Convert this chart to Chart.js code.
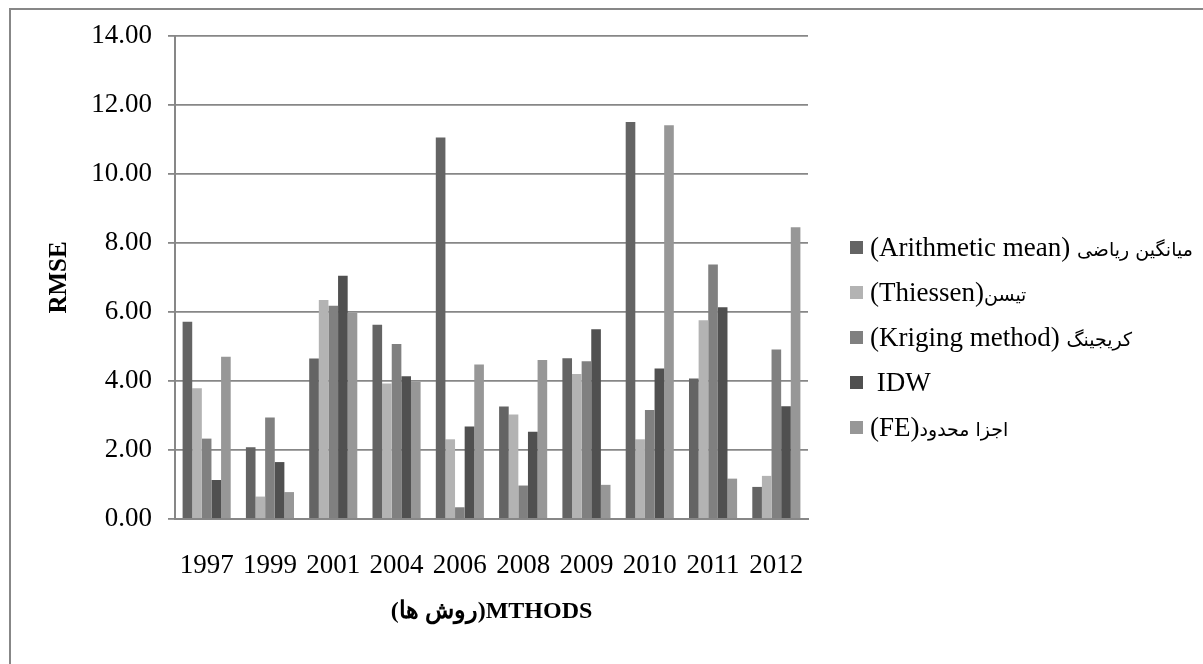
<!DOCTYPE html>
<html>
<head>
<meta charset="utf-8">
<script src="https://cdn.jsdelivr.net/npm/chart.js@4"></script>
<style>
  body { margin: 0; background: #fff; overflow: hidden; }
  #frame {
    position: absolute; left: 9px; top: 8px; width: 1300px; height: 700px;
    border-left: 2px solid #878787; border-top: 2px solid #878787;
  }
  #chartCanvas { position: absolute; left: 0; top: 0; }
  #legend {
    position: absolute; left: 850px; top: 225px;
    font-family: "Liberation Serif", "Times New Roman", serif; font-size: 27px; color: #000;
  }
  .legend-row { height: 45px; display: flex; align-items: center; white-space: pre; }
  .legend-box { width: 13px; height: 13px; margin-right: 7px; flex: none; }
  .fa { font-family: "DejaVu Sans", sans-serif; font-size: 19px; }
</style>
</head>
<body>
<div id="frame"></div>
<canvas id="chartCanvas" width="1203" height="664"></canvas>
<div id="legend"></div>
<script>
const years = ['1997', '1999', '2001', '2004', '2006', '2008', '2009', '2010', '2011', '2012'];

const seriesNames = [
  '(Arithmetic mean) میانگین ریاضی',
  '(Thiessen)تیسن',
  '(Kriging method) کریجینگ',
  ' IDW',
  '(FE)اجزا محدود'
];
const seriesColors = ['#646464', '#b3b3b3', '#808080', '#505050', '#979797'];

const arithmeticMean = [5.72, 2.08, 4.65, 5.63, 11.06, 3.26, 4.66, 11.51, 4.07, 0.93];
const thiessen       = [3.79, 0.65, 6.35, 3.93, 2.31, 3.03, 4.20, 2.31, 5.76, 1.25];
const kriging        = [2.33, 2.94, 6.18, 5.07, 0.34, 0.97, 4.57, 3.16, 7.38, 4.91];
const idw            = [1.13, 1.65, 7.05, 4.14, 2.68, 2.53, 5.50, 4.36, 6.14, 3.27];
const finiteElement  = [4.70, 0.78, 5.98, 3.98, 4.48, 4.61, 0.99, 11.41, 1.17, 8.46];

const allSeries = [arithmeticMean, thiessen, kriging, idw, finiteElement];

const serif = '"Liberation Serif", "Times New Roman", serif';
const gridGray = '#878787';

const datasets = allSeries.map((vals, i) => ({
  label: seriesNames[i],
  data: vals,
  backgroundColor: seriesColors[i],
  borderWidth: 0,
  categoryPercentage: 0.76,
  barPercentage: 1.0
}));

// legend is plain html so the persian text gets proper bidi handling
// (persian runs get a smaller font, DejaVu is much wider than the original)
const legendEl = document.getElementById('legend');
datasets.forEach(ds => {
  const row = document.createElement('div');
  row.className = 'legend-row';
  const box = document.createElement('span');
  box.className = 'legend-box';
  box.style.background = ds.backgroundColor;
  const txt = document.createElement('span');
  txt.innerHTML = ds.label.replace(/[\u0600-\u06FF][\u0600-\u06FF ]*/g, m => '<span class="fa">' + m + '</span>');
  row.appendChild(box);
  row.appendChild(txt);
  legendEl.appendChild(row);
});

const ctx = document.getElementById('chartCanvas').getContext('2d');
new Chart(ctx, {
  type: 'bar',
  data: { labels: years, datasets },
  options: {
    responsive: false,
    animation: false,
    layout: { padding: { top: 36, right: 395, bottom: 0, left: 0 } },
    plugins: {
      legend: { display: false },
      tooltip: { enabled: false }
    },
    scales: {
      x: {
        grid: { display: false },
        border: { display: true, color: gridGray, width: 2 },
        ticks: {
          color: '#000',
          padding: 23,
          maxRotation: 0,
          autoSkip: false,
          font: { family: serif, size: 27 }
        },
        title: {
          display: true,
          text: '(روش ها)MTHODS',
          color: '#000',
          font: { family: serif, size: 24, weight: 'bold' },
          padding: { top: 0, bottom: 38 }
        },
        afterFit: scale => { scale.height = 145; }
      },
      y: {
        min: 0,
        max: 14,
        grid: { color: gridGray, lineWidth: 1.8, tickLength: 7 },
        border: { display: true, color: gridGray, width: 2 },
        ticks: {
          stepSize: 2,
          color: '#000',
          padding: 16,
          font: { family: serif, size: 27 },
          callback: v => v.toFixed(2)
        },
        title: {
          display: true,
          text: 'RMSE',
          color: '#000',
          font: { family: serif, size: 25, weight: 'bold' },
          padding: { top: 45, bottom: 0 }
        },
        afterFit: scale => { scale.width = 175; }
      }
    }
  }
});
</script>
</body>
</html>
